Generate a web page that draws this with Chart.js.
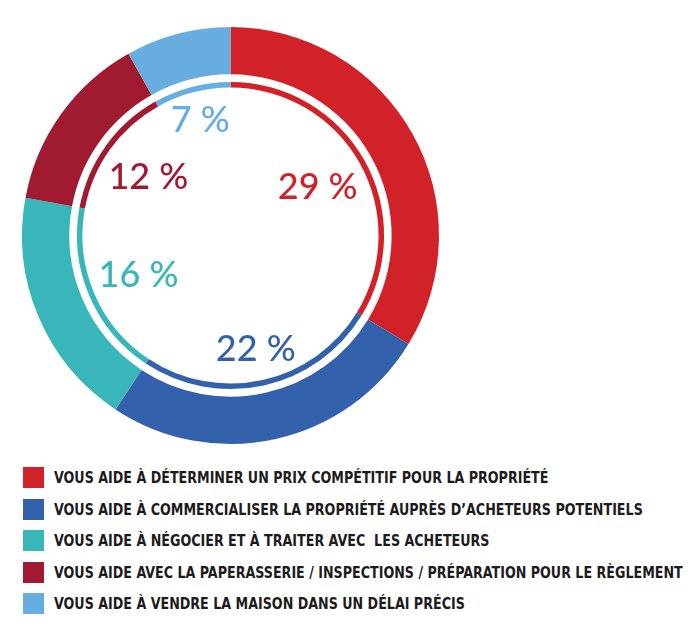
<!DOCTYPE html>
<html lang="fr">
<head>
<meta charset="utf-8">
<title>Rôle du courtier</title>
<script src="https://cdn.jsdelivr.net/npm/chart.js@4.4.1/dist/chart.umd.min.js"></script>
<style>
  html, body { margin: 0; padding: 0; background: #fff; }
  #wrap { position: relative; width: 700px; height: 638px; overflow: hidden; }
  #chartBox { position: absolute; left: 0; top: 0; width: 700px; height: 460px; }
  #legend {
    position: absolute; left: 23px; top: 467px; margin: 0; padding: 0; list-style: none;
    font-family: "DejaVu Sans Condensed", "Liberation Sans Narrow", sans-serif;
    font-weight: bold; font-size: 16px; color: #1d1b1c;
  }
  #legend li { display: flex; align-items: center; height: 21px; margin-bottom: 10.5px; white-space: pre; }
  #legend .box { width: 21px; height: 21px; margin-right: 10px; flex: none; }
  #legend .txt { display: inline-block; transform: scaleX(0.882); transform-origin: left center; }
</style>
</head>
<body>
<div id="wrap">
  <div id="chartBox"><canvas id="ringChart"></canvas></div>
  <ul id="legend"></ul>
</div>
<script>
// categories and values (percent of respondents)
const categories = [
  'VOUS AIDE À DÉTERMINER UN PRIX COMPÉTITIF POUR LA PROPRIÉTÉ',
  'VOUS AIDE À COMMERCIALISER LA PROPRIÉTÉ AUPRÈS D\u2019ACHETEURS POTENTIELS',
  'VOUS AIDE À NÉGOCIER ET À TRAITER AVEC  LES ACHETEURS',
  'VOUS AIDE AVEC LA PAPERASSERIE / INSPECTIONS / PRÉPARATION POUR LE RÈGLEMENT',
  'VOUS AIDE À VENDRE LA MAISON DANS UN DÉLAI PRÉCIS'
];
const percentages = [29, 22, 16, 12, 7];
const percentLabels = ['29 %', '22 %', '16 %', '12 %', '7 %'];

const sliceColors = ['#d12229', '#3461ab', '#39b6b9', '#a01b31', '#67ade0'];

// Draws the "xx %" numbers inside the ring, at the middle angle of each slice
const percentTextPlugin = {
  id: 'percentText',
  afterDatasetsDraw(chart, args, opts) {
    const ctx = chart.ctx;
    const arcs = chart.getDatasetMeta(0).data;
    ctx.save();
    ctx.font = '500 36px Lato, "Open Sans", sans-serif';
    ctx.textAlign = 'center';
    ctx.textBaseline = 'middle';
    arcs.forEach((arc, i) => {
      const mid = (arc.startAngle + arc.endAngle) / 2;
      const r = opts.radii[i];
      ctx.fillStyle = sliceColors[i];
      ctx.fillText(percentLabels[i], arc.x + Math.cos(mid) * r, arc.y + Math.sin(mid) * r + 1);
    });
    ctx.restore();
  }
};

const arcStyle = { borderWidth: 0, hoverBorderWidth: 0, offset: 0, hoverOffset: 0 };

new Chart(document.getElementById('ringChart').getContext('2d'), {
  type: 'doughnut',
  data: {
    labels: categories,
    datasets: [
      Object.assign({ data: percentages, backgroundColor: sliceColors, weight: 47 }, arcStyle),
      Object.assign({ data: percentages, backgroundColor: 'rgba(0,0,0,0)', weight: 7.5 }, arcStyle),
      Object.assign({ data: percentages, backgroundColor: sliceColors, weight: 5.5 }, arcStyle)
    ]
  },
  options: {
    responsive: true,
    maintainAspectRatio: false,
    animation: false,
    events: [],
    cutout: '71%',
    layout: { padding: { left: 22, right: 261, top: 27, bottom: 16 } },
    plugins: {
      legend: { display: false },
      tooltip: { enabled: false },
      percentText: { radii: [100, 116, 100, 101, 120] }
    }
  },
  plugins: [percentTextPlugin]
});

// Legend below the ring
const legendList = document.getElementById('legend');
categories.forEach((name, i) => {
  const li = document.createElement('li');
  const box = document.createElement('span');
  box.className = 'box';
  box.style.background = sliceColors[i];
  const txt = document.createElement('span');
  txt.className = 'txt';
  txt.textContent = name;
  li.appendChild(box);
  li.appendChild(txt);
  legendList.appendChild(li);
});
</script>
</body>
</html>
